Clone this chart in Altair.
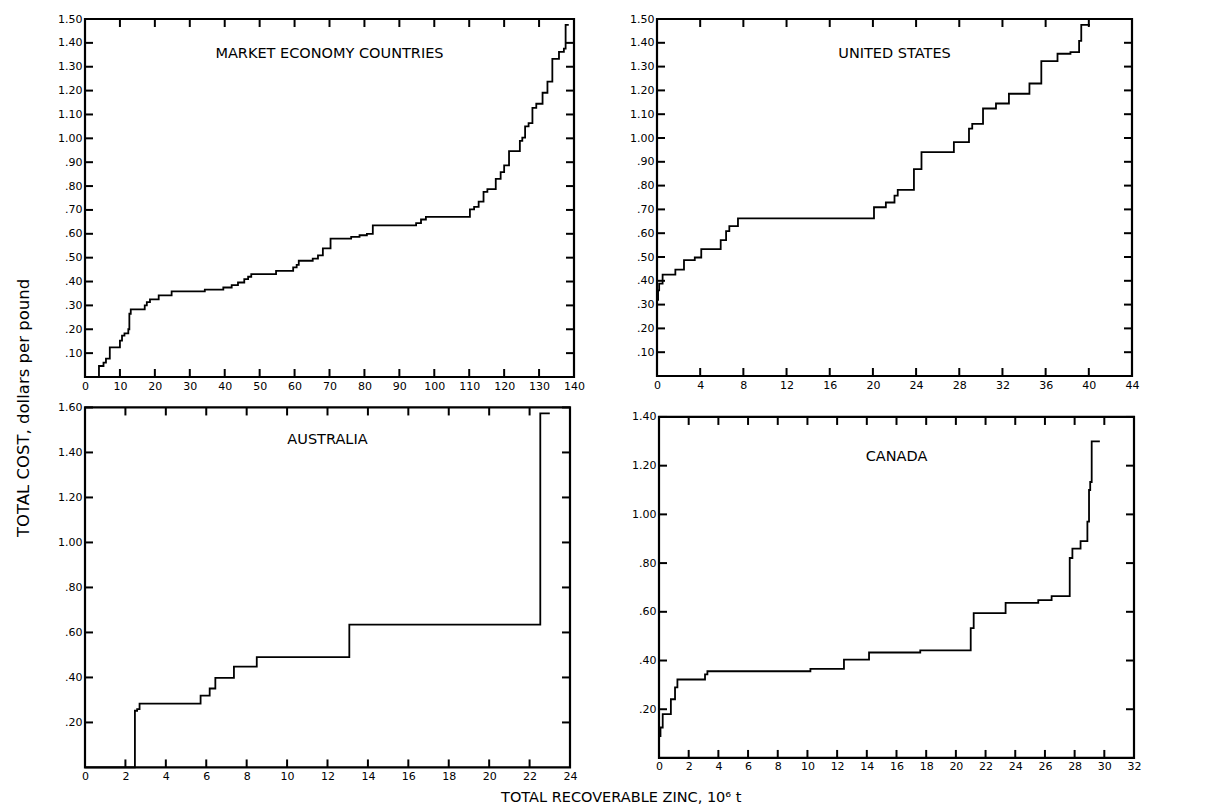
import altair as alt
import pandas as pd

# ---------------- data ----------------
mec_x = [0, 4.0, 5.3, 6.0, 7.1, 10.0, 10.6, 11.3, 12.4, 12.7, 13.1, 17.1, 17.7, 18.6, 21.1,
         24.8, 34.3, 39.6, 42.0, 43.8, 45.6, 46.7, 47.6, 54.7, 59.6, 60.6, 61.2, 65.2, 66.7,
         68.1, 70.3, 76.2, 78.6, 80.7, 82.4, 94.8, 96.2, 97.6, 110.2, 111.4, 112.7, 114.1,
         115.2, 117.6, 119.0, 120.0, 121.4, 124.5, 125.2, 126.0, 127.0, 128.1, 129.2, 131.0,
         132.4, 133.8, 135.7, 137.1, 137.6, 138.5]
mec_y = [0, 0.046, 0.06, 0.077, 0.124, 0.152, 0.173, 0.183, 0.2, 0.265, 0.283, 0.30, 0.314,
         0.325, 0.342, 0.359, 0.366, 0.375, 0.385, 0.396, 0.41, 0.42, 0.431, 0.445, 0.459,
         0.47, 0.487, 0.496, 0.51, 0.539, 0.58, 0.587, 0.594, 0.60, 0.635, 0.645, 0.66, 0.671,
         0.702, 0.713, 0.735, 0.776, 0.787, 0.83, 0.858, 0.887, 0.946, 0.989, 1.003, 1.05,
         1.064, 1.128, 1.145, 1.191, 1.238, 1.333, 1.362, 1.376, 1.475, 1.475]

us_x = [0, 0.1, 0.2, 0.52, 1.7, 2.5, 3.5, 4.1, 5.9, 6.4, 6.7, 7.5, 20.1, 21.2, 22.0, 22.3,
        23.8, 24.5, 27.5, 28.9, 29.2, 30.2, 31.4, 32.6, 34.5, 35.6, 37.1, 38.3, 39.1, 39.3, 40.1]
us_y = [0.32, 0.36, 0.388, 0.426, 0.447, 0.487, 0.498, 0.533, 0.571, 0.609, 0.63, 0.662,
        0.709, 0.729, 0.758, 0.782, 0.869, 0.941, 0.983, 1.039, 1.059, 1.124, 1.145, 1.186,
        1.229, 1.323, 1.354, 1.361, 1.408, 1.475, 1.475]

aus_x = [0, 2.47, 2.58, 2.7, 5.72, 6.17, 6.45, 7.37, 8.5, 13.08, 22.53, 23.0]
aus_y = [0, 0.252, 0.259, 0.284, 0.319, 0.351, 0.398, 0.448, 0.49, 0.635, 1.574, 1.574]

can_x = [0, 0.1, 0.25, 0.8, 1.08, 1.24, 3.1, 3.26, 10.2, 12.46, 14.15, 17.6, 21.0, 21.2,
         23.35, 25.55, 26.45, 27.67, 27.85, 28.4, 28.86, 28.97, 29.05, 29.15, 29.7]
can_y = [0.09, 0.125, 0.18, 0.241, 0.29, 0.322, 0.343, 0.356, 0.366, 0.404, 0.433, 0.442,
         0.533, 0.595, 0.637, 0.648, 0.664, 0.821, 0.859, 0.89, 0.97, 1.10, 1.133, 1.30, 1.30]

mec_xticks = list(range(0, 141, 10))
us_xticks = list(range(0, 45, 4))
aus_xticks = list(range(0, 25, 2))
can_xticks = list(range(0, 33, 2))
y_ticks_10 = [round(0.1 * i, 2) for i in range(1, 16)]
aus_yticks = [round(0.2 * i, 2) for i in range(1, 9)]
can_yticks = [round(0.2 * i, 2) for i in range(1, 8)]

titles = ["MARKET ECONOMY COUNTRIES", "UNITED STATES", "AUSTRALIA", "CANADA"]
y_title = "TOTAL COST,  dollars per pound"
x_title = "TOTAL RECOVERABLE ZINC, 10\u2076 t"

FONT = "DejaVu Sans"
TICK = 8
YLABEL = ("datum.value < 0.995 ? substring(format(datum.value, '.2f'), 1)"
          " : format(datum.value, '.2f')")


def axis(orient, values, label_expr=None):
    kw = dict(orient=orient, values=values, domain=False, grid=False, ticks=False,
              labelFlush=False, labelOverlap=False, labelPadding=3, labelColor="black",
              labelFont=FONT, labelFontSize=11, title=None)
    if label_expr:
        kw["labelExpr"] = label_expr
    else:
        kw["format"] = "d"
    return alt.Axis(**kw)


def panel(xs, ys, title, xdom, xticks, ydom, yticks, w, h, ty):
    df = pd.DataFrame({"x": xs, "y": ys})
    xsc = alt.Scale(domain=xdom, nice=False, zero=False)
    ysc = alt.Scale(domain=ydom, nice=False, zero=False)
    main = alt.Chart(df).mark_line(interpolate="step-after", color="black",
                                   strokeWidth=1.8).encode(
        x=alt.X("x:Q", scale=xsc, axis=axis("bottom", xticks)),
        y=alt.Y("y:Q", scale=ysc, axis=axis("left", yticks, label_expr=YLABEL)),
    )
    xt = pd.DataFrame({"xt": xticks})
    yt = pd.DataFrame({"yt": yticks})
    rule = dict(color="#000000", strokeWidth=2, strokeCap="butt")
    xt_bot = alt.Chart(xt).mark_rule(**rule).encode(
        x=alt.X("xt:Q", scale=xsc, axis=None), y=alt.value(h), y2=alt.value(h - TICK))
    xt_top = alt.Chart(xt).mark_rule(**rule).encode(
        x=alt.X("xt:Q", scale=xsc, axis=None), y=alt.value(0), y2=alt.value(TICK))
    yt_left = alt.Chart(yt).mark_rule(**rule).encode(
        y=alt.Y("yt:Q", scale=ysc, axis=None), x=alt.value(0), x2=alt.value(TICK))
    yt_right = alt.Chart(yt).mark_rule(**rule).encode(
        y=alt.Y("yt:Q", scale=ysc, axis=None), x=alt.value(w), x2=alt.value(w - TICK))
    txt = alt.Chart(pd.DataFrame({"t": [title]})).mark_text(
        font=FONT, fontSize=14.5, color="black", align="center", baseline="middle"
    ).encode(x=alt.value(w / 2), y=alt.value(ty), text="t:N")
    return alt.layer(main, xt_bot, xt_top, yt_left, yt_right, txt).resolve_axis(
        x="independent", y="independent").properties(width=w, height=h)


p1 = panel(mec_x, mec_y, titles[0], [0, 140], mec_xticks, [0, 1.5], y_ticks_10, 489, 358, 35)
p2 = panel(us_x, us_y, titles[1], [0, 44], us_xticks, [0, 1.5], y_ticks_10, 475, 357, 35)
p3 = panel(aus_x, aus_y, titles[2], [0, 24], aus_xticks, [0, 1.6], aus_yticks, 485, 360, 33)
p4 = panel(can_x, can_y, titles[3], [0, 32], can_xticks, [0, 1.4], can_yticks, 475, 341, 40)

row1 = alt.hconcat(p1, p2, spacing=42)
row2 = alt.hconcat(p3, p4, spacing=51, center=True).properties(
    title=alt.TitleParams(x_title, orient="bottom", anchor="middle", font=FONT, fontSize=14.5,
                          fontWeight="normal", color="black", offset=8, dx=22))

chart = alt.vconcat(row1, row2, spacing=7).properties(
    title=alt.TitleParams(y_title, orient="left", anchor="middle", font=FONT, fontSize=16.5,
                          fontWeight="normal", color="black", offset=24),
    padding={"left": 7, "top": 3, "right": 5, "bottom": 0},
).configure_view(stroke="black", strokeWidth=2.2)

chart.save("out.html", embed_options={"renderer": "svg", "actions": False})
